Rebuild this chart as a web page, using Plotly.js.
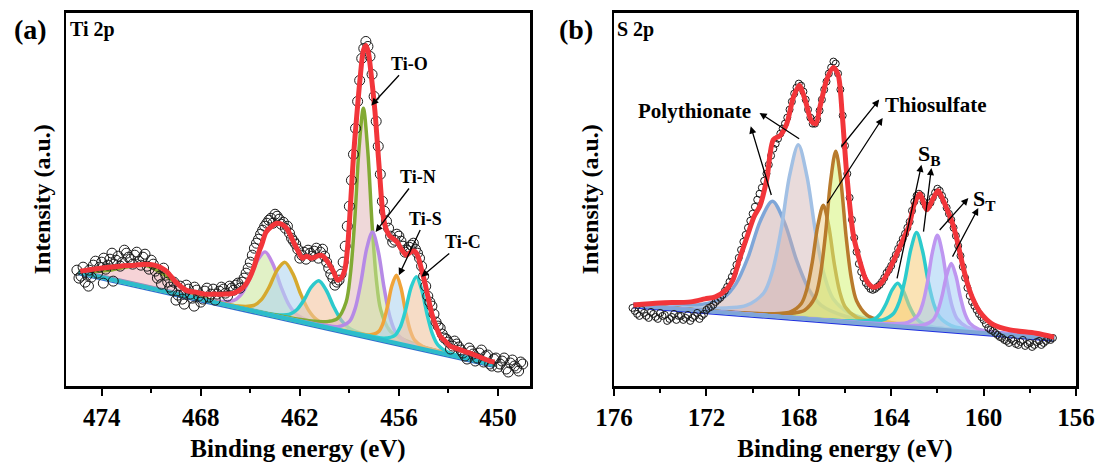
<!DOCTYPE html>
<html><head><meta charset="utf-8">
<script src="https://cdn.plot.ly/plotly-3.0.1.min.js"></script>
<style>html,body{margin:0;padding:0;background:#fff}#chart{width:1099px;height:468px}</style>
</head><body><div id="chart"></div>
<script>
// ---------------- Panel (a) Ti 2p ----------------
const tiTicks = [474, 468, 462, 456, 450];
const tiMinorTicks = [471, 465, 459, 453];
const tiDataX = [475.5,475.25,475.0,474.75,474.5,474.25,474.0,473.75,473.5,473.25,473.0,472.75,472.5,472.25,472.0,471.75,471.5,471.25,471.0,470.75,470.5,470.25,470.0,469.75,469.5,469.25,469.0,468.75,468.5,468.25,468.0,467.75,467.5,467.25,467.0,466.75,466.5,466.25,466.0,465.75,465.5,465.25,465.0,464.75,464.5,464.25,464.0,463.75,463.5,463.25,463.0,462.75,462.5,462.25,462.0,461.75,461.5,461.25,461.0,460.75,460.5,460.25,460.0,459.75,459.5,459.25,459.0,458.75,458.5,458.25,458.0,457.75,457.5,457.25,457.0,456.75,456.5,456.25,456.0,455.75,455.5,455.25,455.0,454.75,454.5,454.25,454.0,453.75,453.5,453.25,453.0,452.75,452.5,452.25,452.0,451.75,451.5,451.25,451.0,450.75,450.5,450.25,450.0,449.75,449.5,449.25,449.0,448.75,448.5];
const tiDataY = [116,110,104,116,121,113,124,117,127,122,130,124,133,127,131,125,129,120,126,115,110,118,104,96,86,100,93,97,88,96,84,95,89,97,92,99,93,100,96,103,104,113,124,138,147,156,163,168,172,167,164,160,148,142,128,134,136,130,138,134,130,118,108,104,112,140,180,232,285,328,345,330,290,240,185,165,150,146,150,140,136,141,137,128,110,90,80,64,58,48,44,40,42,36,30,38,32,28,36,30,22,27,19,25,17,23,20,15,22];
const tiData2X = [475.375,475.125,474.875,474.625,474.375,474.125,473.875,473.625,473.375,473.125,472.875,472.625,472.375,472.125,471.875,471.625,471.375,471.125,470.875,470.625,470.375,470.125,469.875,469.625,469.375,469.125,468.875,468.625,468.375,468.125,467.875,467.625,467.375,467.125,466.875,466.625,466.375,466.125,465.875,465.625,465.375,465.125,464.875,464.625,464.375,464.125,463.875,463.625,463.375,463.125,462.875,462.625,462.375,462.125,461.875,461.625,461.375,461.125,460.875,460.625,460.375,460.125,459.875,459.625,459.375,459.125,458.875,458.625,458.375,458.125,457.875,457.625,457.375,457.125,456.875,456.625,456.375,456.125,455.875,455.625,455.375,455.125,454.875,454.625,454.375,454.125,453.875,453.625,453.375,453.125,452.875,452.625,452.375,452.125,451.875,451.625,451.375,451.125,450.875,450.625,450.375,450.125,449.875,449.625,449.375,449.125,448.875,448.625,474.8,473.9,473.3,469.0,468.4];
const tiData2Y = [108,119,111,109,125,119,128,121,133,126,120,136,129,122,134,121,132,117,122,108,102,111,99,104,91,87,101,92,99,90,87,98,92,86,95,97,90,98,101,98,108,118,131,143,152,160,166,163,170,162,158,153,145,137,131,127,133,135,128,137,124,112,101,106,124,160,206,258,306,338,340,312,265,212,175,158,144,152,145,134,139,143,133,120,100,84,72,60,52,47,37,45,39,33,27,35,25,33,24,31,20,28,22,28,14,26,18,24,100,103,105,82,80];
const tiEnvX = [450.2,450.5,451.4,451.9,452.4,452.9,453.2,453.5,453.8,454.0,454.25,454.45,454.65,454.85,455.05,455.3,455.55,455.85,456.1,456.3,456.55,456.75,456.95,457.2,457.45,457.7,457.85,458.0,458.15,458.35,458.55,458.75,458.95,459.1,459.28,459.5,459.71,459.95,460.3,460.6,460.8,461.1,461.3,461.6,461.85,462.1,462.35,462.6,462.8,463.1,463.4,463.7,464.05,464.3,464.55,464.8,465.05,465.35,465.65,466.0,466.5,467.2,467.75,468.3,468.9,469.5,470.15,470.8,471.4,472.0,472.9,474.1,475.3];
const tiEnvY = [24,25,31,34,37,40,45,50,62,72,90,105,118,130,135,134,131,137,144,147,150,156,170,220,275,315,334,341,336,308,271,230,176,140,116,108,106,114,124,130,131,129,128,130,128,135,143,152,158,162,163,160,154,142,131,118,108,100,96,93,92,92,92,94,96,104,116,121,122,121,120,118,115];
const tiBaseX = [450.2, 475.4];
const tiBaseY = [21.0, 113.9];
// fitted components (ascending binding energy)
const tiSatX = [450.2,464.0,465.3,466.5,467.6,468.6,469.5,470.4,471.4,472.5,473.5,474.5,475.4];
const tiSatY = [21.0,71.9,76.9,81.6,87.2,93.8,103.2,113.5,121.2,119.2,115.9,114.6,114.9];
const tiP1X = [450.2,458.4,460.3,461.25,462.2,462.675,463.15,463.625,464.1,464.575,465.05,465.525,466.0,466.95,467.9,469.8,475.4];
const tiP1Y = [21.0,51.7,59.3,63.6,71.7,81.8,99.8,121.9,134.3,125.4,106.8,92.3,85.7,84.7,87.4,93.8,113.9];
const tiP2X = [450.2,457.2,459.1,460.05,461.0,461.475,461.95,462.425,462.9,463.375,463.85,464.325,464.8,465.75,466.7,468.6,475.4];
const tiP2Y = [21.0,47.3,54.8,59.1,66.7,76.0,92.3,112.5,123.8,116.0,99.3,86.5,80.6,80.0,82.8,89.3,113.9];
const tiP3X = [450.2,455.45,457.25,458.15,459.05,459.5,459.95,460.4,460.85,461.3,461.75,462.2,462.65,463.55,464.45,466.25,475.4];
const tiP3Y = [21.0,40.8,47.8,51.7,58.3,66.1,79.4,95.9,105.3,99.2,86.1,76.1,71.6,71.6,74.4,80.6,113.9];
const tiOX = [450.2,453.0,455.0,456.05,456.575,457.1,457.3625,457.625,457.8875,458.15,458.4125,458.675,458.9375,459.2,459.725,460.25,461.3,463.4,475.4];
const tiOY = [21.0,32.4,41.7,49.2,55.9,76.2,106.2,162.2,236.2,278.1,238.1,166.1,112.0,83.9,67.5,64.7,65.0,70.8,113.9];
const tiNX = [450.2,453.4,454.8,455.5,456.2,456.55,456.9,457.25,457.6,457.95,458.3,458.65,459.0,459.7,460.4,461.8,475.4];
const tiNY = [21.0,33.7,39.9,43.9,54.1,69.7,98.7,134.9,154.3,137.5,103.9,77.5,64.5,59.4,60.5,64.7,113.9];
const tiSX = [450.2,452.85,453.95,454.5,455.05,455.325,455.6,455.875,456.15,456.425,456.7,456.975,457.25,457.8,458.35,459.45,475.4];
const tiSY = [21.0,31.3,36.0,38.9,46.0,56.2,74.9,98.3,110.9,100.3,78.9,62.2,54.1,51.1,52.3,55.6,113.9];
const tiCX = [450.2,451.04,452.34,452.99,453.64,453.965,454.29,454.615,454.94,455.265,455.59,455.915,456.24,456.89,457.54,458.84,475.4];
const tiCY = [21.0,24.7,30.2,33.5,41.1,51.9,71.6,96.2,109.5,98.6,76.4,59.1,50.7,47.9,49.4,53.5,113.9];

// ---------------- Panel (b) S 2p ----------------
const sTicks = [176, 172, 168, 164, 160, 156];
const sMinorTicks = [174, 170, 166, 162, 158];
const sDataX = [175.2,175.0,174.8,174.6,174.4,174.2,174.0,173.8,173.6,173.4,173.2,173.0,172.8,172.6,172.4,172.2,172.0,171.8,171.6,171.4,171.2,171.0,170.8,170.6,170.4,170.2,170.0,169.8,169.6,169.4,169.2,169.0,168.8,168.6,168.4,168.2,168.0,167.8,167.6,167.4,167.2,167.0,166.8,166.6,166.4,166.2,166.0,165.8,165.6,165.4,165.2,165.0,164.8,164.6,164.4,164.2,164.0,163.8,163.6,163.4,163.2,163.0,162.8,162.6,162.4,162.2,162.0,161.8,161.6,161.4,161.2,161.0,160.8,160.6,160.4,160.2,160.0,159.8,159.6,159.4,159.2,159.0,158.8,158.6,158.4,158.2,158.0,157.8,157.6,157.4,157.2,157.0];
const sDataY = [78,72,76,70,74,69,73,71,67,72,70,66,71,68,73,70,76,79,84,88,95,104,114,128,144,158,172,186,198,212,230,242,252,262,276,292,302,294,276,262,266,286,304,318,322,296,240,188,148,122,108,100,96,99,104,113,120,131,142,152,164,184,192,184,180,188,197,190,178,166,150,130,108,90,80,72,66,58,55,51,48,45,47,42,44,40,43,41,45,43,47,48];
const sData2X = [175.1,174.9,174.7,174.5,174.3,174.1,173.9,173.7,173.5,173.3,173.1,172.9,172.7,172.5,172.3,172.1,171.9,171.7,171.5,171.3,171.1,170.9,170.7,170.5,170.3,170.1,169.9,169.7,169.5,169.3,169.1,168.9,168.7,168.5,168.3,168.1,167.9,167.7,167.5,167.3,167.1,166.9,166.7,166.5,166.3,166.1,165.9,165.7,165.5,165.3,165.1,164.9,164.7,164.5,164.3,164.1,163.9,163.7,163.5,163.3,163.1,162.9,162.7,162.5,162.3,162.1,161.9,161.7,161.5,161.3,161.1,160.9,160.7,160.5,160.3,160.1,159.9,159.7,159.5,159.3,159.1,158.9,158.7,158.5,158.3,158.1,157.9,157.7,157.5,157.3,157.1];
const sData2Y = [75,70,73,68,72,67,70,65,69,66,70,68,65,70,67,72,78,81,86,91,99,109,121,136,151,165,179,192,205,221,237,247,257,268,284,298,300,286,268,262,275,296,312,324,312,270,212,166,134,114,103,97,97,101,108,116,126,137,147,158,175,190,190,180,183,193,195,185,172,158,140,119,98,84,76,69,62,56,53,49,46,43,45,41,46,42,39,44,41,45,46];
const sEnvX = [156.95,157.73,158.86,159.56,160.16,160.48,160.72,160.94,161.15,161.37,161.54,161.76,161.97,162.19,162.45,162.77,163.01,163.23,163.49,163.84,164.27,164.57,164.82,165.09,165.35,165.64,165.93,166.12,166.3,166.51,166.79,167.08,167.26,167.44,167.73,167.98,168.24,168.52,168.81,169.1,169.39,169.68,169.94,170.24,170.55,170.85,171.15,171.61,172.06,172.68,174.01,175.16];
const sEnvY = [48.7,52.7,56,61,74,88,104,124,146,164,174,186,195,187,176,192,181,160,146,128,108,100,99,106,124,151,213,271,311,318,306,279,262,264,286,300,288,262,250,246,206,180,169,149,128,106,96,89,87,84,83,81];
const sBaseX = [156.95, 175.16];
const sBaseY = [47.3, 80.5];
const sP1X = [156.95,159.7,162.84,164.94,165.99,167.04,167.565,168.09,168.615,169.14,169.665,170.19,170.715,171.24,172.29,173.34,175.16];
const sP1Y = [47.6,53.0,59.6,65.4,69.7,80.8,96.5,125.1,162.9,184.5,164.8,128.9,102.2,88.5,81.2,80.7,81.2];
const sP2X = [156.95,161.27,163.52,165.02,165.77,166.52,166.895,167.27,167.645,168.02,168.395,168.77,169.145,169.52,170.27,171.02,172.52,174.77,175.16];
const sP2Y = [47.8,56.2,61.6,67.2,72.3,87.5,110.4,152.9,209.1,241.0,210.5,155.6,114.4,92.9,80.5,78.2,78.0,80.8,81.3];
const sP3X = [156.95,162.665,164.09,165.04,165.515,165.99,166.2275,166.465,166.7025,166.94,167.1775,167.415,167.6525,167.89,168.365,168.84,169.79,171.215,175.16];
const sP3Y = [47.5,58.4,61.9,65.5,68.8,78.9,94.0,122.2,159.4,180.5,160.3,123.9,96.6,82.4,74.0,72.5,72.3,74.0,80.9];
const sP4X = [156.95,162.35,163.7,164.6,165.05,165.5,165.725,165.95,166.175,166.4,166.625,166.85,167.075,167.3,167.75,168.2,169.1,170.45,175.16];
const sP4Y = [47.5,58.2,61.9,66.4,70.8,85.2,107.3,148.7,203.5,234.5,204.3,150.4,109.8,88.5,75.7,72.9,71.8,72.9,81.0];
const sP5X = [156.95,159.22,160.72,161.72,162.22,162.72,162.97,163.22,163.47,163.72,163.97,164.22,164.47,164.72,165.22,165.72,166.72,168.22,175.16];
const sP5Y = [47.4,51.7,54.8,57.3,59.1,63.4,69.4,80.2,94.5,102.6,95.4,82.1,72.1,67.1,64.6,64.6,65.7,68.1,80.6];
const sP6X = [156.95,158.4,159.9,160.9,161.4,161.9,162.15,162.4,162.65,162.9,163.15,163.4,163.65,163.9,164.4,164.9,165.9,167.4,175.16];
const sP6Y = [47.4,50.5,54.0,57.4,60.3,68.8,81.4,104.7,135.6,153.2,136.5,106.6,84.1,72.4,65.8,64.7,64.9,66.9,80.7];
const sP7X = [156.95,158.175,159.45,160.3,160.725,161.15,161.3625,161.575,161.7875,162.0,162.2125,162.425,162.6375,162.85,163.275,163.7,164.55,165.825,175.16];
const sP7Y = [47.4,50.1,53.2,56.2,59.0,67.3,79.6,102.7,133.2,150.5,134.0,104.3,82.0,70.4,63.6,62.4,62.4,64.1,80.6];
const sP8X = [156.95,157.8,159.0,159.8,160.2,160.6,160.8,161.0,161.2,161.4,161.6,161.8,162.0,162.2,162.6,163.0,163.8,165.0,175.16];
const sP8Y = [47.4,49.3,51.9,54.5,56.6,62.8,71.7,88.2,110.0,122.4,110.7,89.7,73.9,65.7,61.0,60.3,60.7,62.4,80.6];

// ---------------- traces ----------------
function comp(x, y, line, fill, xa, ya) {
  return {x: x, y: y, xaxis: xa, yaxis: ya, type: 'scatter', mode: 'lines',
    line: {color: line, width: 3.5, shape: 'spline', smoothing: 0.9},
    fill: 'toself', fillcolor: fill, hoverinfo: 'skip'};
}
const traces = [
  {x: tiBaseX, y: tiBaseY, xaxis: 'x', yaxis: 'y', mode: 'lines', line: {color: '#2f6fd0', width: 6}},
  comp(tiSatX, tiSatY, '#86a832', 'rgba(238,168,176,0.5)', 'x', 'y'),
  comp(tiP1X, tiP1Y, '#c08ae6', 'rgba(205,232,160,0.6)', 'x', 'y'),
  comp(tiP2X, tiP2Y, '#d6a92e', 'rgba(176,214,240,0.6)', 'x', 'y'),
  comp(tiP3X, tiP3Y, '#2cc9cc', 'rgba(244,196,160,0.6)', 'x', 'y'),
  comp(tiOX, tiOY, '#82aa34', 'rgba(226,184,186,0.55)', 'x', 'y'),
  comp(tiNX, tiNY, '#b68ae6', 'rgba(206,230,160,0.55)', 'x', 'y'),
  comp(tiSX, tiSY, '#f0a43a', 'rgba(176,214,240,0.6)', 'x', 'y'),
  comp(tiCX, tiCY, '#2ccfd0', 'rgba(240,196,160,0.6)', 'x', 'y'),
  {x: tiBaseX, y: tiBaseY, xaxis: 'x', yaxis: 'y', mode: 'lines', line: {color: '#2cbccc', width: 4}},
  {x: tiDataX.concat(tiData2X), y: tiDataY.concat(tiData2Y), xaxis: 'x', yaxis: 'y', mode: 'markers',
    marker: {symbol: 'circle-open', size: 10, color: '#1a1a1a', line: {width: 1}}},
  {x: tiEnvX, y: tiEnvY, xaxis: 'x', yaxis: 'y', mode: 'lines',
    line: {color: '#f2353a', width: 5, shape: 'spline', smoothing: 0.8}},

  {x: sBaseX, y: sBaseY, xaxis: 'x2', yaxis: 'y2', mode: 'lines', line: {color: '#1f2fe0', width: 6}},
  comp(sP1X, sP1Y, '#7fa6d8', 'rgba(196,160,160,0.45)', 'x2', 'y2'),
  comp(sP2X, sP2Y, '#a2c0e4', 'rgba(206,176,176,0.45)', 'x2', 'y2'),
  comp(sP3X, sP3Y, '#b87a2c', 'rgba(236,200,120,0.45)', 'x2', 'y2'),
  comp(sP4X, sP4Y, '#b87a2c', 'rgba(214,244,120,0.55)', 'x2', 'y2'),
  comp(sP5X, sP5Y, '#2ccbcc', 'rgba(250,212,110,0.55)', 'x2', 'y2'),
  comp(sP6X, sP6Y, '#2ccbcc', 'rgba(246,204,120,0.55)', 'x2', 'y2'),
  comp(sP7X, sP7Y, '#be96f0', 'rgba(160,206,244,0.55)', 'x2', 'y2'),
  comp(sP8X, sP8Y, '#be96f0', 'rgba(166,206,246,0.55)', 'x2', 'y2'),
  {x: sBaseX, y: sBaseY, xaxis: 'x2', yaxis: 'y2', mode: 'lines', line: {color: '#7fa6d8', width: 4}},
  {x: sDataX.concat(sData2X), y: sDataY.concat(sData2Y), xaxis: 'x2', yaxis: 'y2', mode: 'markers',
    marker: {symbol: 'circle-open', size: 7, color: '#1a1a1a', line: {width: 1}}},
  {x: sEnvX, y: sEnvY, xaxis: 'x2', yaxis: 'y2', mode: 'lines',
    line: {color: '#f2353a', width: 5, shape: 'spline', smoothing: 0.8}}
];

const FONT = 'Liberation Serif, Times New Roman, serif';
// arrow with its label placed at the tail (ax, ay)
function tagged(xr, yr, hx, hy, tx, ty, t, size) {
  return {xref: xr, yref: yr, axref: xr, ayref: yr, x: hx, y: hy, ax: tx, ay: ty,
    text: '<b>' + t + '</b>', font: {family: FONT, size: size, color: '#000'},
    showarrow: true, arrowhead: 2, arrowsize: 1.1, arrowwidth: 1.3, arrowcolor: '#000', standoff: 0};
}
function arrow(xr, yr, hx, hy, tx, ty) {
  return {xref: xr, yref: yr, axref: xr, ayref: yr, x: hx, y: hy, ax: tx, ay: ty,
    text: '', showarrow: true, arrowhead: 2, arrowsize: 1.1, arrowwidth: 1.3, arrowcolor: '#000', standoff: 0, startstandoff: 0};
}
const annotations = [
  {xref: 'paper', yref: 'paper', x: 30/1099, y: 1 - 30/468, xanchor: 'center', yanchor: 'middle', text: '<b>(a)</b>', showarrow: false, font: {family: FONT, size: 28, color: '#000'}},
  {xref: 'paper', yref: 'paper', x: 68/1099, y: 1 - 30/468, xanchor: 'left', yanchor: 'middle', text: '<b>Ti 2p</b>', showarrow: false, font: {family: FONT, size: 20, color: '#000'}},
  {xref: 'paper', yref: 'paper', x: 576/1099, y: 1 - 30/468, xanchor: 'center', yanchor: 'middle', text: '<b>(b)</b>', showarrow: false, font: {family: FONT, size: 28, color: '#000'}},
  {xref: 'paper', yref: 'paper', x: 615/1099, y: 1 - 30/468, xanchor: 'left', yanchor: 'middle', text: '<b>S 2p</b>', showarrow: false, font: {family: FONT, size: 20, color: '#000'}},
  tagged('x', 'y', 457.67, 281, 455.35, 322.7, 'Ti-O', 18),
  tagged('x', 'y', 457.41, 154.3, 454.85, 209.3, 'Ti-N', 18),
  tagged('x', 'y', 456.0, 111, 454.38, 167.7, 'Ti-S', 18),
  tagged('x', 'y', 454.64, 109.3, 452.12, 144.3, 'Ti-C', 18),
  {xref: 'x2', yref: 'y2', x: 172.52, y: 274.3, text: '<b>Polythionate</b>', showarrow: false, font: {family: FONT, size: 21, color: '#000'}},
  {xref: 'x2', yref: 'y2', x: 162.08, y: 281, text: '<b>Thiosulfate</b>', showarrow: false, font: {family: FONT, size: 21, color: '#000'}},
  {xref: 'x2', yref: 'y2', x: 162.36, y: 231, text: '<b>S<sub>B</sub></b>', showarrow: false, font: {family: FONT, size: 22, color: '#000'}},
  {xref: 'x2', yref: 'y2', x: 159.94, y: 186, text: '<b>S<sub>T</sub></b>', showarrow: false, font: {family: FONT, size: 22, color: '#000'}},
  arrow('x2', 'y2', 170.08, 259.3, 169.17, 189.3),
  arrow('x2', 'y2', 169.7, 272.7, 167.92, 246),
  arrow('x2', 'y2', 164.52, 286, 166.2, 237.7),
  arrow('x2', 'y2', 164.37, 267.7, 166.81, 181),
  arrow('x2', 'y2', 162.69, 221, 163.76, 106),
  arrow('x2', 'y2', 162.26, 217.7, 162.61, 152.7),
  arrow('x2', 'y2', 160.66, 187.7, 161.96, 154.3),
  arrow('x2', 'y2', 160.23, 177.7, 161.38, 127.7)
];

function xax(domain, range, ticks, minor, anchor) {
  return {domain: domain, range: range, anchor: anchor, tickmode: 'array', tickvals: ticks,
    ticktext: ticks.map(String), ticks: 'outside', ticklen: 7, tickwidth: 2, tickcolor: '#000',
    minor: {tickmode: 'array', tickvals: minor, ticks: 'outside', ticklen: 4, tickwidth: 2, tickcolor: '#000'},
    showline: true, linewidth: 2.5, linecolor: '#000', mirror: true, showgrid: false, zeroline: false,
    tickfont: {family: FONT, size: 25, color: '#000', weight: 'bold'},
    title: {text: '<b>Binding energy (eV)</b>', font: {family: FONT, size: 25, color: '#000'}, standoff: 10}};
}
function yax(range, anchor) {
  return {domain: [82/468, 455.5/468], range: range, anchor: anchor, showticklabels: false, ticks: '',
    showline: true, linewidth: 2.5, linecolor: '#000', mirror: true, showgrid: false, zeroline: false,
    title: {text: '<b>Intensity (a.u.)</b>', font: {family: FONT, size: 24, color: '#000'}, standoff: 6}};
}
const layout = {
  width: 1099, height: 468, margin: {l: 0, r: 0, t: 0, b: 0},
  paper_bgcolor: '#fff', plot_bgcolor: '#fff', showlegend: false,
  font: {family: FONT, color: '#000'},
  xaxis: xax([66/1099, 530/1099], [476.16, 448.06], tiTicks, tiMinorTicks, 'y'),
  yaxis: yax([0, 374], 'x'),
  xaxis2: xax([614/1099, 1076/1099], [176, 156], sTicks, sMinorTicks, 'y2'),
  yaxis2: yax([0, 373], 'x2'),
  annotations: annotations
};
Plotly.newPlot('chart', traces, layout, {displayModeBar: false, staticPlot: true});
</script></body></html>
